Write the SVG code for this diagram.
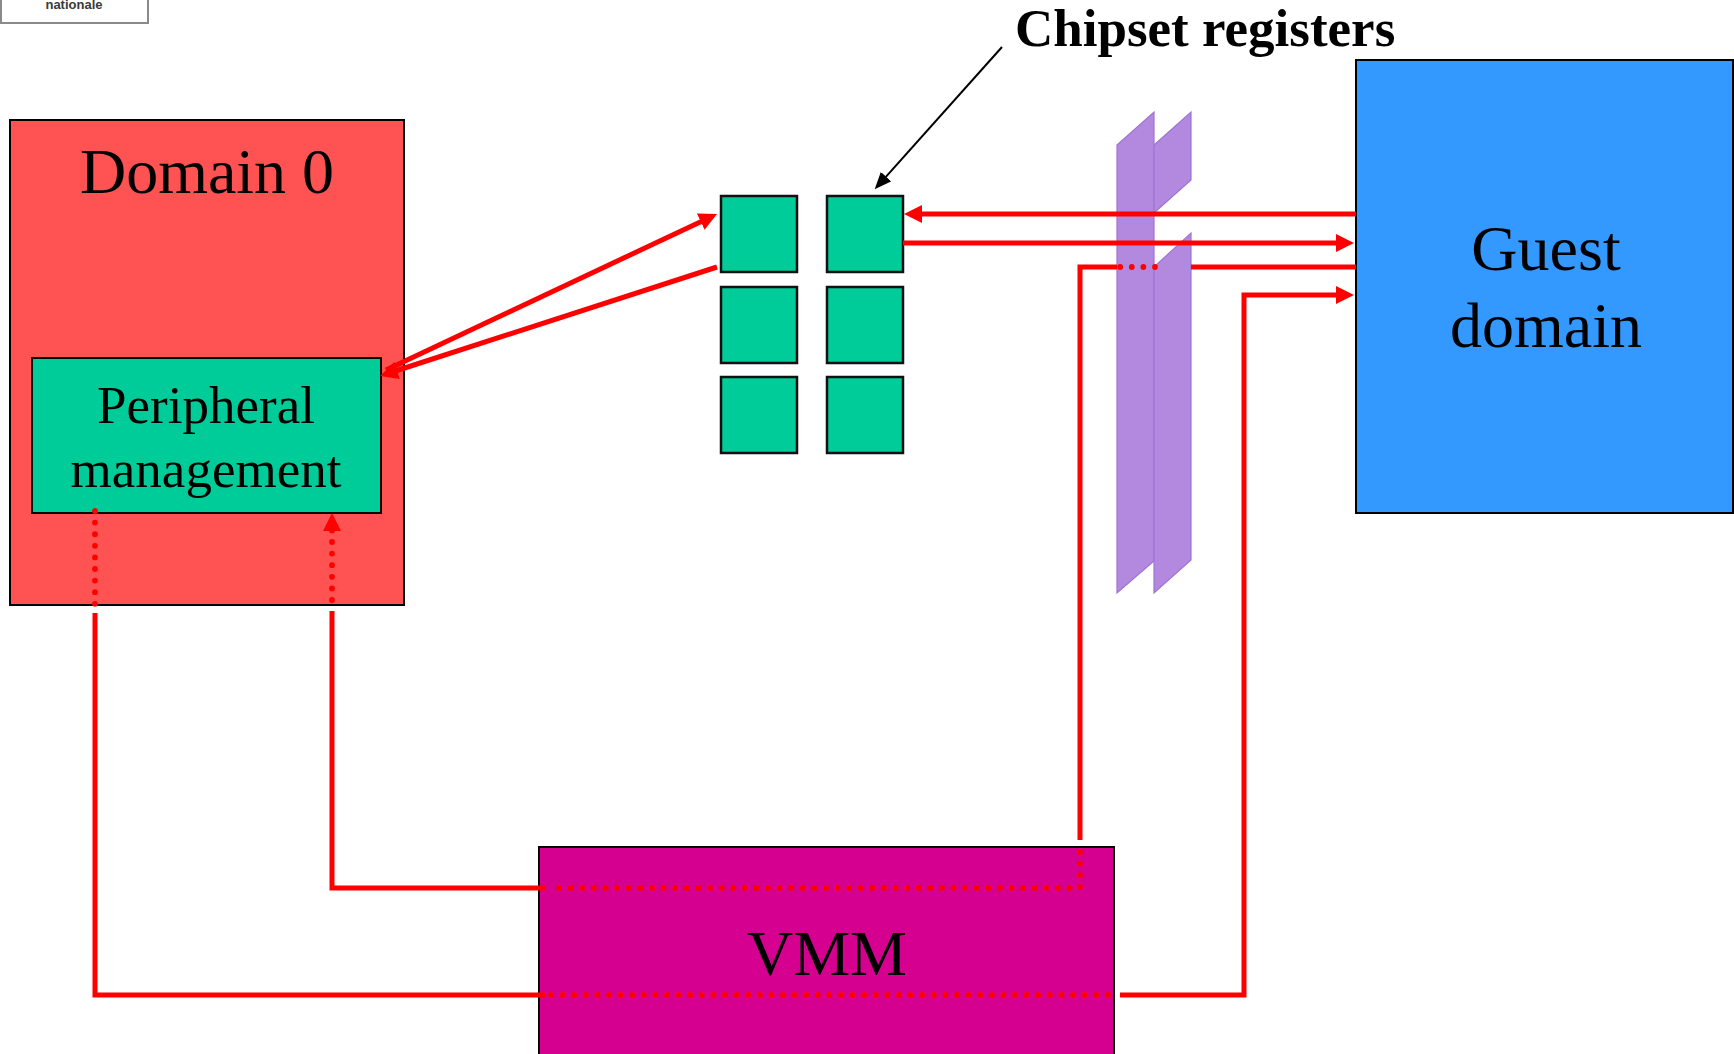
<svg xmlns="http://www.w3.org/2000/svg" width="1734" height="1054" viewBox="0 0 1734 1054">
  <style>
    .box { stroke: #000; stroke-width: 2; }
    .reg { fill: #00CC99; stroke: #111; stroke-width: 2.5; }
    .label { font-family: "Liberation Serif", "Times New Roman", serif; fill: #000; text-anchor: middle; }
    .big { font-size: 64px; }
    .mid { font-size: 53px; }
    .wire { fill: none; stroke: #FF0000; stroke-width: 5; stroke-linejoin: miter; }
    .dots { fill: none; stroke: #FF0000; stroke-width: 5.8; stroke-linecap: round; stroke-dasharray: 0 11.6; }
    .pane { fill: #B389E0; stroke: #9F74D2; stroke-width: 1.2; }
  </style>
  <defs>
    <marker id="redHead" markerUnits="userSpaceOnUse" markerWidth="18" markerHeight="18" refX="10" refY="9" orient="auto">
      <path d="M0,0 L18,9 L0,18 Z" fill="#FF0000"/>
    </marker>
    <marker id="blackHead" markerUnits="userSpaceOnUse" markerWidth="17" markerHeight="14" refX="11" refY="7" orient="auto">
      <path d="M0,0 L17,7 L0,14 Z" fill="#000"/>
    </marker>
  </defs>

  <rect width="1734" height="1054" fill="#FFFFFF"/>

  <!-- corner badge -->
  <g id="badge">
    <rect x="1" y="-20" width="147" height="43" fill="#FFFFFF" stroke="#8A8A8A" stroke-width="2"/>
    <text x="74" y="9" font-family="Liberation Sans, Arial, sans-serif" font-size="13" font-weight="bold" fill="#3A3A3A" text-anchor="middle">nationale</text>
  </g>

  <!-- Domain 0 -->
  <g id="domain0">
    <rect class="box" x="10" y="120" width="394" height="485" fill="#FF5252"/>
    <text class="label big" x="207" y="193">Domain 0</text>
  </g>

  <!-- Peripheral management -->
  <g id="peripheral">
    <rect class="box" x="32" y="358" width="349" height="155" fill="#00CC99"/>
    <text class="label mid" x="206" y="423">Peripheral</text>
    <text class="label mid" x="206" y="487">management</text>
  </g>

  <!-- Chipset registers -->
  <g id="registers">
    <rect class="reg" x="721" y="196" width="76" height="76"/>
    <rect class="reg" x="827" y="196" width="76" height="76"/>
    <rect class="reg" x="721" y="287" width="76" height="76"/>
    <rect class="reg" x="827" y="287" width="76" height="76"/>
    <rect class="reg" x="721" y="377" width="76" height="76"/>
    <rect class="reg" x="827" y="377" width="76" height="76"/>
  </g>

  <g id="registers-label">
    <text x="1015" y="46" font-family="Liberation Serif, Times New Roman, serif" font-size="53" font-weight="bold" fill="#000">Chipset registers</text>
    <path d="M1002,47 L878.7,184.8" fill="none" stroke="#000" stroke-width="2" marker-end="url(#blackHead)"/>
  </g>

  <!-- Guest domain -->
  <g id="guest">
    <rect class="box" x="1356" y="60" width="377" height="453" fill="#3399FF"/>
    <text class="label big" x="1546" y="270">Guest</text>
    <text class="label big" x="1546" y="347">domain</text>
  </g>

  <!-- VMM -->
  <g id="vmm">
    <rect class="box" x="539" y="847" width="575" height="220" fill="#D60090"/>
    <text class="label big" x="827" y="975">VMM</text>
  </g>

  <!-- isolation panes between the registers and the guest -->
  <g id="barrier">
    <polygon class="pane" points="1117,145 1154,112 1154,561 1117,593"/>
    <polygon class="pane" points="1154,145 1191,112 1191,180 1154,213"/>
    <polygon class="pane" points="1154,267 1191,233 1191,560 1154,593"/>
  </g>

  <!-- connectors -->
  <g id="connectors">
    <!-- peripheral management <-> register -->
    <path class="wire" d="M386,370 L709.8,217.4" marker-end="url(#redHead)"/>
    <path class="wire" d="M717,267 L387.6,373.5" marker-end="url(#redHead)"/>

    <!-- register <-> guest -->
    <path class="wire" d="M1356,214 H912" marker-end="url(#redHead)"/>
    <path class="wire" d="M903,243 H1346" marker-end="url(#redHead)"/>

    <!-- peripheral management -> VMM -> guest (lower loop) -->
    <path class="dots" d="M95,511 V607"/>
    <path class="wire" d="M95,613 V995 H545"/>
    <path class="dots" d="M551,995 H1110"/>
    <path class="wire" d="M1120,995 H1244 V295 H1346" marker-end="url(#redHead)"/>

    <!-- guest -> VMM -> peripheral management (upper loop) -->
    <path class="wire" d="M1356,267 H1191"/>
    <path class="dots" d="M1155,267 H1120"/>
    <path class="wire" d="M1117,267 H1080 V840"/>
    <path class="dots" d="M1080,852 V888 H551"/>
    <path class="wire" d="M545,888 H332 V611"/>
    <path class="dots" d="M332,600 V521" marker-end="url(#redHead)"/>
  </g>
</svg>
